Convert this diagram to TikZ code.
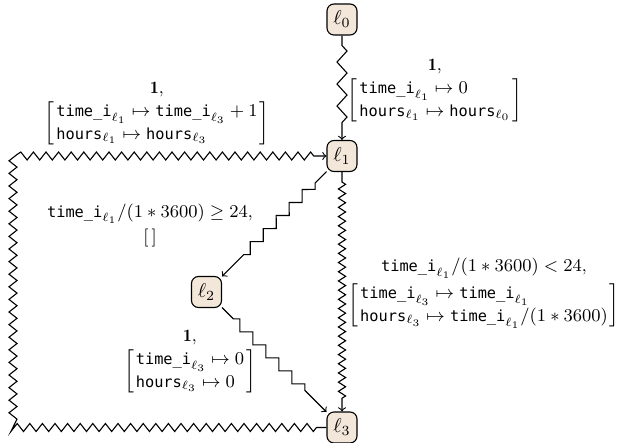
\documentclass[tikz,border=0pt]{standalone}
\usepackage{amsmath}
\usepackage{fontspec}
\setmonofont{DejaVu Sans Mono}[Scale=0.88]
\usetikzlibrary{decorations.pathmorphing}
\definecolor{locfill}{HTML}{F3E7D9}
\newcommand{\vr}[2]{\texttt{#1}_{\ell_{#2}}}
\begin{document}
\begin{tikzpicture}[x=0.5pt,y=-0.5pt,line width=0.55pt,
  loc/.style={draw,rounded corners=3.5pt,fill=locfill,inner sep=0pt,minimum width=15pt,minimum height=15.5pt},
  zz/.style 2 args={decorate,decoration={zigzag,segment length=#1,amplitude=#2,pre length=5pt,post length=6pt}},
  dz/.style 2 args={decorate,decoration={zigzag,segment length=#1,amplitude=#2,pre length=8pt,post length=12pt}},
  lbl/.style={align=center,inner sep=0pt,font=\fontsize{8.7}{11.5}\selectfont}]
\useasboundingbox (0,0) rectangle (625,443);
\node[loc] (l0) at (342,19.5) {$\ell_0$};
\node[loc] (l1) at (342,156) {$\ell_1$};
\node[loc] (l2) at (206.5,292) {$\ell_2$};
\node[loc] (l3) at (342,427.5) {$\ell_3$};
\coordinate (c1) at (13,427.5);
\coordinate (c2) at (13,156);
\draw[->,zz={11pt}{2.5pt}] (l0) -- (l1);
\draw[->,zz={6.3pt}{2pt}] (l3.west) -- (c1) -- (c2) -- (l1.west);
\draw[->,dz={9.2pt}{2.3pt}] (l1) -- (l2);
\draw[->,dz={9.2pt}{2.3pt}] (l2) -- (l3);
\draw[->,zz={4.6pt}{1.8pt}] (l1) -- (l3);
\node[lbl] (t01) at (435,91) {$\mathbf{1}$,\\[1pt]
 $\left[\begin{array}{@{\hspace{1pt}}l@{\hspace{1pt}}}\vr{time\_i}{1}\mapsto 0\\ \vr{hours}{1}\mapsto \vr{hours}{0}\end{array}\right]$};
\node[lbl] (t31) at (157,114) {$\mathbf{1}$,\\[1pt]
 $\left[\begin{array}{@{\hspace{1pt}}l@{\hspace{1pt}}}\vr{time\_i}{1}\mapsto \vr{time\_i}{3}+1\\ \vr{hours}{1}\mapsto \vr{hours}{3}\end{array}\right]$};
\node[lbl] (t12) at (150,225) {$\vr{time\_i}{1}/(1*3600)\geq 24$,\\[1pt] $[\,]$};
\node[lbl] (t13) at (484,293.5) {$\vr{time\_i}{1}/(1*3600) < 24$,\\[1pt]
 $\left[\begin{array}{@{\hspace{1pt}}l@{\hspace{1pt}}}\vr{time\_i}{3}\mapsto \vr{time\_i}{1}\\ \vr{hours}{3}\mapsto \vr{time\_i}{1}/(1*3600)\end{array}\right]$};
\node[lbl] (t23) at (190,362) {$\mathbf{1}$,\\[1pt]
 $\left[\begin{array}{@{\hspace{1pt}}l@{\hspace{1pt}}}\vr{time\_i}{3}\mapsto 0\\ \vr{hours}{3}\mapsto 0\end{array}\right]$};
\end{tikzpicture}
\end{document}
